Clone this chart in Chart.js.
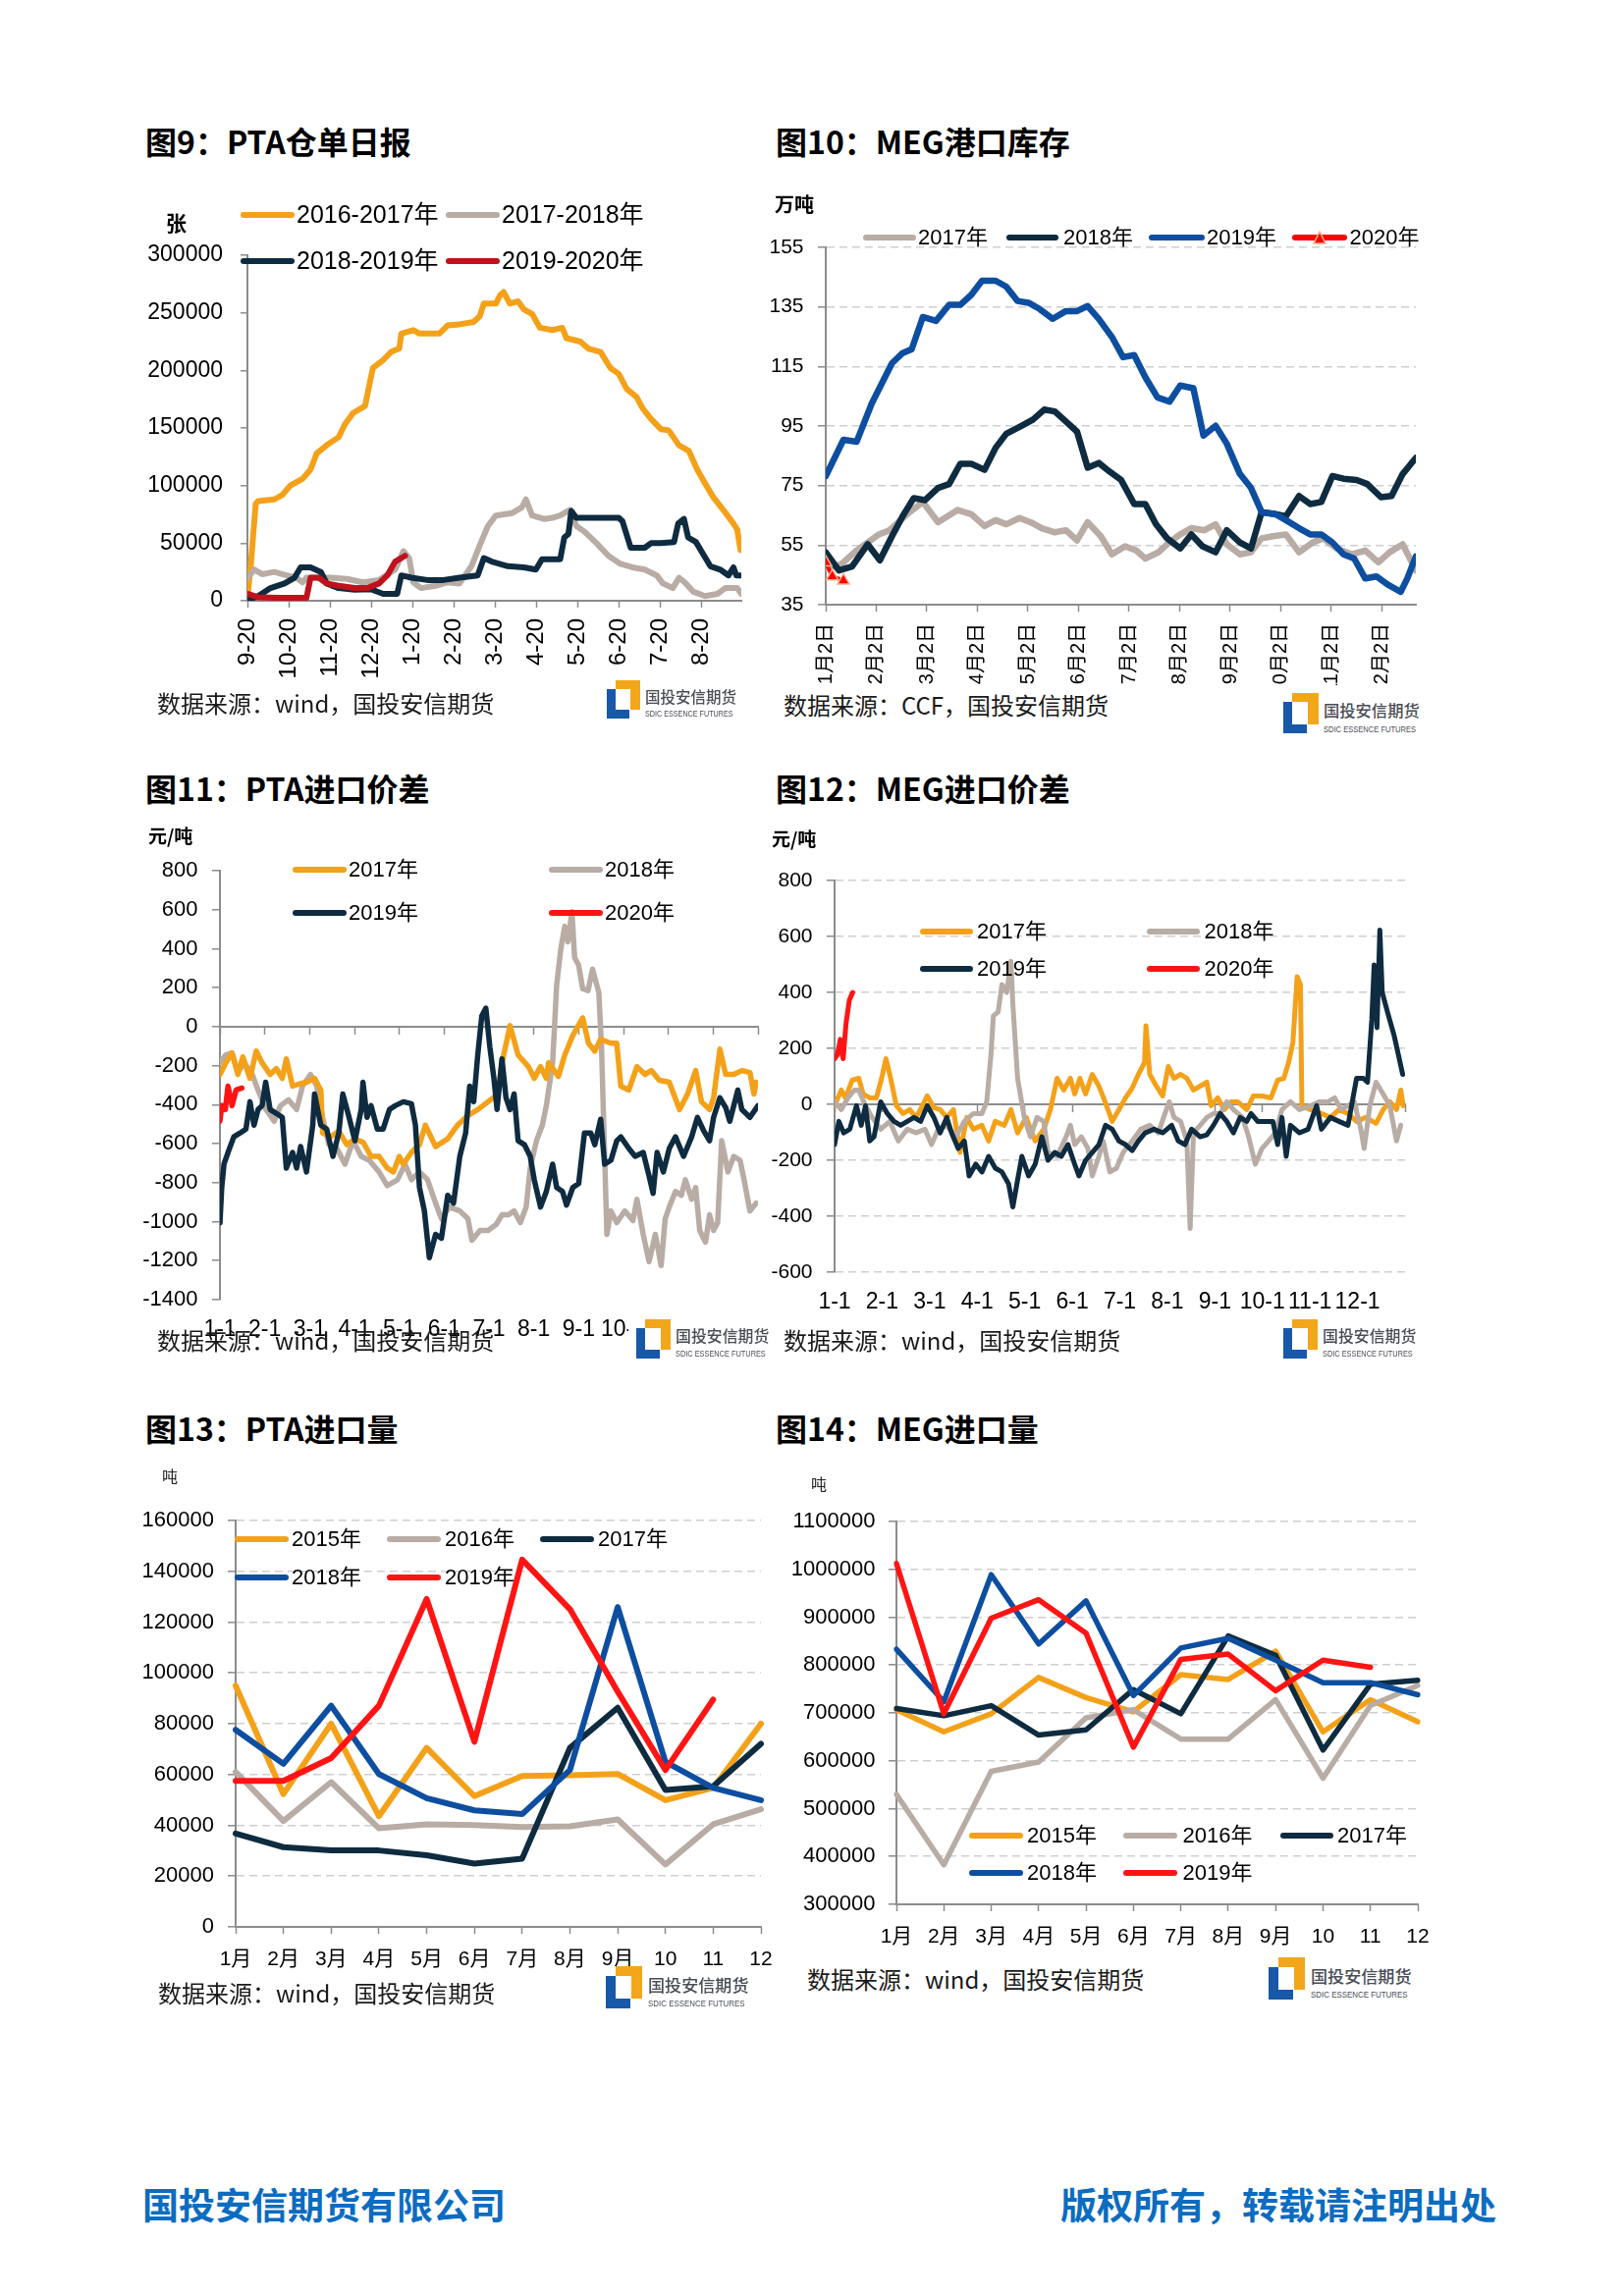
<!DOCTYPE html>
<html>
<head>
<meta charset="utf-8">
<script src="https://cdn.jsdelivr.net/npm/chart.js@4.4.1/dist/chart.umd.min.js"></script>
<style>
  body { margin: 0; background: #fff; }
  #page { position: relative; width: 1654px; height: 2339px; overflow: hidden; background: #fff;
          font-family: 'Liberation Sans', 'Noto Sans CJK SC', sans-serif; }
  .t { position: absolute; white-space: nowrap; line-height: 1; color: #000; }
  canvas { position: absolute; }
  .sw { position: absolute; height: 6px; border-radius: 3px; }
</style>
</head>
<body>
<div id="page"></div>
<script>
// ---- data (x = months from the first tick, y = value) ----
const ticks9 = ['9-20', '10-20', '11-20', '12-20', '1-20', '2-20', '3-20', '4-20', '5-20', '6-20', '7-20', '8-20'];
const yTicks9 = [0, 50000, 100000, 150000, 200000, 250000, 300000];
const pta1617 = [[0,2500],[0.08,30000],[0.2,84000],[0.26,86500],[0.65,88000],[0.85,92000],[1.04,100000],[1.34,106000],[1.53,114000],[1.68,128000],[1.92,135000],[2.21,142000],[2.36,153000],[2.56,163000],[2.85,169000],[3.04,202000],[3.29,209000],[3.48,216000],[3.68,219000],[3.73,232000],[4.02,235000],[4.17,232000],[4.65,232000],[4.85,239000],[5.14,240000],[5.48,242000],[5.63,247000],[5.73,258000],[6.02,258000],[6.12,265000],[6.21,268000],[6.36,258000],[6.56,260000],[6.70,253000],[6.90,249000],[7.09,237000],[7.39,235000],[7.63,237000],[7.73,228000],[8.07,225000],[8.26,219000],[8.56,216000],[8.80,202000],[9.00,197000],[9.19,184000],[9.43,177000],[9.58,167000],[9.78,158000],[10.02,149000],[10.21,148000],[10.46,135000],[10.70,130000],[10.90,114000],[11.09,102000],[11.29,90000],[11.53,79000],[11.78,67000],[11.87,62000],[11.95,44000]];
const pta1718 = [[0,20000],[0.17,27000],[0.36,23000],[0.65,25000],[0.95,22000],[1.19,20000],[1.34,16000],[1.43,20000],[2.02,20000],[2.41,19000],[2.80,16000],[3.19,18000],[3.58,27000],[3.78,43000],[3.92,37000],[4.02,16000],[4.21,11000],[4.56,13000],[4.85,16000],[5.14,15000],[5.43,30000],[5.63,48000],[5.83,65000],[6.02,74000],[6.41,76000],[6.65,81000],[6.75,88000],[6.90,74000],[7.19,71000],[7.39,72000],[7.58,74000],[7.82,79000],[7.97,65000],[8.17,60000],[8.46,50000],[8.75,39000],[9.04,32000],[9.33,29000],[9.63,27000],[9.92,22000],[10.07,15000],[10.31,11000],[10.46,20000],[10.60,16000],[10.80,8000],[11.09,4000],[11.39,6000],[11.58,11000],[11.87,11000],[11.97,6000]];
const pta1819 = [[0,500],[0.26,4000],[0.56,11000],[0.90,15000],[1.14,20000],[1.29,29000],[1.53,29000],[1.78,25000],[1.92,15000],[2.21,11000],[2.60,9500],[2.99,10000],[3.29,6000],[3.63,6000],[3.73,22000],[3.97,20000],[4.36,18000],[4.75,18000],[5.14,20000],[5.58,22000],[5.73,37000],[5.92,34000],[6.31,30000],[6.70,29000],[6.99,27000],[7.14,36000],[7.58,36000],[7.68,55000],[7.78,58000],[7.85,78000],[7.97,72000],[8.56,72000],[9.00,72000],[9.09,69000],[9.29,46000],[9.63,46000],[9.78,50000],[10.02,50000],[10.34,51000],[10.44,67000],[10.58,71000],[10.68,55000],[10.87,51000],[11.07,39000],[11.22,30000],[11.46,27000],[11.66,22000],[11.78,29000],[11.85,22000],[11.97,22000]];
const pta1920 = [[0,6000],[0.26,3000],[0.75,2500],[1.43,2500],[1.53,20000],[1.73,20000],[1.92,15000],[2.21,13000],[2.60,11000],[2.90,11000],[3.19,15000],[3.39,22000],[3.58,34000],[3.82,39000]];

const ticks10 = ['1月2日', '2月2日', '3月2日', '4月2日', '5月2日', '6月2日', '7月2日', '8月2日', '9月2日', '10月2日', '11月2日', '12月2日'];
const yTicks10 = [35, 55, 75, 95, 115, 135, 155];
const stock17 = [[0,47.2],[0.30,48.5],[0.61,53.2],[1.05,58.6],[1.26,60.0],[1.61,65.4],[1.92,69.5],[2.22,62.7],[2.61,66.8],[2.88,65.4],[3.14,61.4],[3.36,63.4],[3.57,62.0],[3.83,64.1],[4.05,62.7],[4.27,60.7],[4.53,59.3],[4.75,60.0],[4.97,56.6],[5.18,62.7],[5.44,58.0],[5.66,51.9],[5.92,54.6],[6.14,53.2],[6.32,50.5],[6.58,52.6],[6.79,55.9],[7.01,58.6],[7.23,60.7],[7.49,60.0],[7.71,62.0],[7.93,55.3],[8.19,51.9],[8.41,52.6],[8.62,57.3],[8.84,58.0],[9.10,58.6],[9.36,52.6],[9.63,55.9],[9.84,57.3],[10.10,53.9],[10.41,51.9],[10.67,53.2],[10.93,49.2],[11.15,52.6],[11.41,55.3],[11.67,46.5]];
const stock18 = [[0,52.6],[0.26,46.5],[0.52,47.8],[0.83,55.3],[1.07,49.9],[1.31,58.0],[1.52,64.7],[1.74,70.8],[1.96,70.1],[2.22,74.2],[2.44,75.5],[2.66,82.3],[2.88,82.3],[3.14,80.3],[3.36,87.7],[3.57,92.4],[3.88,95.1],[4.10,97.2],[4.32,100.5],[4.53,99.9],[4.75,96.5],[4.97,93.1],[5.18,81.0],[5.40,82.6],[5.62,79.6],[5.84,76.9],[6.10,68.8],[6.32,68.8],[6.53,62.0],[6.75,57.3],[7.01,53.9],[7.23,58.6],[7.45,54.6],[7.71,52.6],[7.93,60.0],[8.19,55.9],[8.41,53.9],[8.62,66.1],[8.89,65.4],[9.10,64.7],[9.36,71.5],[9.58,68.8],[9.80,69.5],[10.02,78.2],[10.24,77.3],[10.50,76.9],[10.71,75.5],[10.98,71.1],[11.19,71.5],[11.41,78.9],[11.67,84.3]];
const stock19 = [[0,78.2],[0.35,90.4],[0.61,89.7],[0.91,102.6],[1.31,116.1],[1.52,119.5],[1.70,120.8],[1.92,131.6],[2.18,130.3],[2.44,135.7],[2.66,135.7],[2.88,139.1],[3.09,143.8],[3.36,143.8],[3.57,141.8],[3.79,137.0],[4.01,136.4],[4.23,134.3],[4.49,131.0],[4.75,133.6],[4.97,133.6],[5.18,135.3],[5.40,131.0],[5.66,124.9],[5.88,118.1],[6.10,118.8],[6.32,111.4],[6.56,104.6],[6.80,103.2],[7.01,108.6],[7.27,107.7],[7.47,91.8],[7.71,95.1],[7.93,89.1],[8.19,78.9],[8.41,74.2],[8.62,66.1],[8.89,65.4],[9.10,63.4],[9.36,60.7],[9.58,58.6],[9.80,58.6],[10.02,55.9],[10.24,51.9],[10.45,50.5],[10.67,43.8],[10.89,44.5],[11.11,41.8],[11.37,39.3],[11.50,43.8],[11.67,51.2]];
const stock20 = [[0,49.2],[0.13,44.5],[0.35,43.1]];

const ticks11 = ['1-1', '2-1', '3-1', '4-1', '5-1', '6-1', '7-1', '8-1', '9-1', '10-1', '11-1', '12-1'];
const yTicks11 = [-1400, -1200, -1000, -800, -600, -400, -200, 0, 200, 400, 600, 800];
const ptaGap17 = [[0,-245],[0.13,-185],[0.27,-135],[0.40,-245],[0.51,-155],[0.67,-265],[0.81,-125],[0.94,-185],[1.12,-245],[1.26,-215],[1.39,-265],[1.48,-165],[1.62,-305],[1.75,-295],[1.93,-285],[2.11,-265],[2.25,-325],[2.29,-545],[2.47,-565],[2.65,-535],[2.83,-605],[3.01,-575],[3.20,-595],[3.37,-665],[3.55,-665],[3.73,-725],[3.87,-745],[4.00,-665],[4.09,-705],[4.27,-645],[4.45,-605],[4.58,-505],[4.81,-615],[5.08,-575],[5.30,-505],[5.53,-455],[5.75,-425],[5.98,-385],[6.20,-345],[6.29,-185],[6.47,5],[6.65,-145],[6.88,-205],[7.01,-265],[7.15,-205],[7.28,-265],[7.33,-185],[7.55,-255],[7.69,-145],[7.87,-45],[8.09,45],[8.22,-85],[8.36,-125],[8.49,-65],[8.72,-85],[8.85,-85],[8.94,-305],[9.12,-325],[9.30,-205],[9.48,-245],[9.62,-225],[9.80,-275],[10.02,-285],[10.25,-425],[10.43,-345],[10.61,-225],[10.74,-385],[10.92,-425],[11.01,-365],[11.15,-115],[11.28,-245],[11.46,-245],[11.64,-225],[11.82,-235],[11.91,-345],[11.96,-285]];
const ptaGap18 = [[0,-185],[0.13,-145],[0.27,-135],[0.40,-235],[0.54,-185],[0.72,-245],[0.85,-325],[1.03,-425],[1.21,-485],[1.35,-405],[1.53,-375],[1.71,-425],[1.84,-305],[2.02,-245],[2.16,-305],[2.29,-465],[2.43,-605],[2.61,-625],[2.79,-705],[2.97,-585],[3.15,-665],[3.33,-685],[3.55,-745],[3.73,-815],[3.96,-785],[4.13,-705],[4.27,-785],[4.45,-745],[4.63,-785],[4.81,-905],[4.94,-985],[5.12,-925],[5.35,-945],[5.53,-985],[5.62,-1095],[5.80,-1045],[5.98,-1045],[6.16,-1015],[6.29,-965],[6.43,-965],[6.56,-945],[6.70,-1005],[6.83,-925],[6.92,-725],[7.06,-585],[7.19,-505],[7.28,-405],[7.42,-185],[7.51,215],[7.60,395],[7.69,515],[7.76,435],[7.85,590],[7.91,355],[8.00,315],[8.09,195],[8.21,185],[8.31,295],[8.45,175],[8.51,-105],[8.58,-665],[8.63,-1065],[8.72,-945],[8.85,-1005],[9.03,-945],[9.21,-995],[9.30,-885],[9.44,-1065],[9.57,-1205],[9.71,-1065],[9.84,-1225],[9.93,-985],[10.02,-925],[10.16,-845],[10.29,-865],[10.38,-785],[10.52,-885],[10.61,-825],[10.70,-1045],[10.83,-1105],[10.92,-965],[11.01,-1045],[11.10,-1005],[11.19,-585],[11.33,-745],[11.46,-665],[11.60,-685],[11.69,-785],[11.82,-945],[11.96,-905]];
const ptaGap19 = [[0,-1005],[0.04,-825],[0.09,-705],[0.18,-645],[0.31,-565],[0.45,-545],[0.58,-525],[0.67,-385],[0.76,-505],[0.85,-425],[0.94,-405],[1.02,-285],[1.12,-425],[1.26,-445],[1.39,-465],[1.48,-725],[1.62,-645],[1.71,-725],[1.80,-615],[1.93,-745],[2.07,-505],[2.11,-345],[2.25,-505],[2.38,-525],[2.52,-665],[2.65,-545],[2.74,-345],[2.88,-465],[3.01,-585],[3.15,-425],[3.19,-285],[3.28,-465],[3.37,-405],[3.51,-525],[3.64,-525],[3.78,-425],[3.91,-405],[4.09,-385],[4.27,-395],[4.36,-505],[4.45,-825],[4.56,-945],[4.67,-1185],[4.81,-1065],[4.94,-1085],[5.08,-865],[5.21,-905],[5.35,-665],[5.48,-545],[5.57,-305],[5.66,-385],[5.75,-145],[5.84,55],[5.93,95],[6.02,-105],[6.11,-265],[6.18,-425],[6.29,-165],[6.38,-365],[6.47,-425],[6.56,-345],[6.65,-585],[6.79,-605],[6.92,-665],[7.01,-785],[7.15,-925],[7.28,-845],[7.42,-705],[7.51,-825],[7.64,-845],[7.73,-915],[7.87,-825],[8.00,-805],[8.13,-545],[8.27,-545],[8.36,-605],[8.49,-475],[8.58,-705],[8.72,-685],[8.85,-585],[8.94,-565],[9.12,-625],[9.26,-665],[9.44,-645],[9.57,-765],[9.66,-855],[9.75,-645],[9.89,-745],[10.02,-625],[10.16,-565],[10.34,-665],[10.52,-565],[10.65,-465],[10.79,-535],[10.92,-585],[11.01,-465],[11.15,-365],[11.28,-415],[11.37,-485],[11.55,-325],[11.64,-425],[11.82,-465],[12.0,-405]];
const ptaGap20 = [[0,-485],[0.04,-405],[0.12,-425],[0.18,-305],[0.27,-405],[0.36,-325],[0.49,-315]];

const ticks12 = ['1-1', '2-1', '3-1', '4-1', '5-1', '6-1', '7-1', '8-1', '9-1', '10-1', '11-1', '12-1'];
const yTicks12 = [-600, -400, -200, 0, 200, 400, 600, 800];
const megGap17 = [[0,-5],[0.14,51],[0.23,23],[0.37,86],[0.51,93],[0.60,37],[0.74,23],[0.88,23],[0.99,93],[1.08,163],[1.18,93],[1.30,-5],[1.44,-33],[1.58,-19],[1.71,-47],[1.85,-5],[1.95,30],[2.09,-12],[2.22,-19],[2.36,-47],[2.50,-19],[2.64,-172],[2.78,-47],[2.92,-89],[3.10,-75],[3.24,-131],[3.38,-61],[3.57,-75],[3.71,-19],[3.85,-102],[4.03,-47],[4.22,-131],[4.40,-89],[4.54,-19],[4.68,93],[4.82,51],[4.96,93],[5.05,37],[5.16,93],[5.28,37],[5.42,107],[5.56,65],[5.69,9],[5.84,-61],[5.98,-19],[6.12,23],[6.26,58],[6.39,107],[6.52,149],[6.55,281],[6.63,107],[6.77,65],[6.90,30],[7.02,135],[7.14,93],[7.28,107],[7.41,93],[7.55,51],[7.69,65],[7.83,79],[7.92,-5],[8.06,23],[8.20,-19],[8.34,9],[8.48,9],[8.67,-19],[8.81,30],[8.99,30],[9.18,23],[9.32,86],[9.45,93],[9.55,149],[9.64,219],[9.73,456],[9.80,428],[9.83,-5],[10.01,-19],[10.24,-33],[10.43,-47],[10.61,-19],[10.80,-33],[10.98,-61],[11.17,-47],[11.39,-68],[11.54,-19],[11.68,9],[11.82,-19],[11.91,51],[11.96,-5]];
const megGap18 = [[0,9],[0.14,-19],[0.28,23],[0.42,51],[0.51,51],[0.65,-5],[0.79,-47],[0.97,-89],[1.16,-61],[1.34,-131],[1.53,-89],[1.71,-102],[1.90,-89],[2.04,-144],[2.18,-89],[2.36,-75],[2.55,-116],[2.73,-61],[2.92,-33],[3.10,-33],[3.20,9],[3.29,177],[3.34,316],[3.44,330],[3.52,428],[3.62,400],[3.71,511],[3.75,358],[3.85,93],[3.99,-47],[4.12,-116],[4.26,-47],[4.40,-61],[4.49,-172],[4.68,-186],[4.87,-116],[4.96,-75],[5.05,-144],[5.19,-116],[5.33,-158],[5.42,-256],[5.56,-186],[5.65,-131],[5.79,-242],[5.93,-228],[6.07,-172],[6.26,-131],[6.44,-89],[6.63,-75],[6.81,-102],[6.95,-33],[7.04,9],[7.14,-47],[7.28,-61],[7.41,-131],[7.48,-444],[7.55,-102],[7.69,-75],[7.83,-47],[7.97,-33],[8.11,-33],[8.25,9],[8.39,-19],[8.58,-47],[8.71,-116],[8.85,-214],[8.99,-158],[9.13,-131],[9.27,-102],[9.41,-19],[9.59,9],[9.78,-19],[10.01,-5],[10.19,9],[10.38,9],[10.52,23],[10.66,-19],[10.80,-5],[10.93,9],[11.07,-89],[11.14,-158],[11.26,-5],[11.39,79],[11.54,37],[11.68,-5],[11.82,-131],[11.91,-75]];
const megGap19 = [[0,-144],[0.09,-61],[0.19,-102],[0.32,-89],[0.46,-5],[0.56,-75],[0.65,-5],[0.74,-131],[0.83,-116],[0.97,9],[1.11,-33],[1.25,-61],[1.39,-75],[1.53,-61],[1.67,-47],[1.81,-61],[1.95,-5],[2.09,-47],[2.22,-102],[2.36,-47],[2.46,-102],[2.60,-158],[2.73,-131],[2.83,-256],[2.97,-214],[3.10,-242],[3.24,-186],[3.38,-228],[3.52,-242],[3.66,-284],[3.75,-367],[3.85,-270],[3.94,-186],[4.08,-256],[4.22,-214],[4.36,-116],[4.49,-200],[4.63,-172],[4.77,-186],[4.91,-144],[5.05,-214],[5.14,-256],[5.28,-200],[5.42,-172],[5.56,-144],[5.70,-75],[5.84,-89],[5.98,-131],[6.12,-144],[6.26,-165],[6.39,-131],[6.53,-102],[6.72,-89],[6.90,-102],[7.09,-75],[7.23,-131],[7.37,-144],[7.51,-89],[7.69,-116],[7.83,-109],[7.97,-75],[8.11,-33],[8.25,-61],[8.39,-102],[8.53,-47],[8.67,-61],[8.76,-33],[8.90,-61],[9.04,-61],[9.22,-61],[9.32,-144],[9.41,-47],[9.50,-186],[9.59,-75],[9.78,-102],[9.96,-89],[10.14,-5],[10.24,-89],[10.43,-47],[10.61,-61],[10.80,-75],[10.98,93],[11.12,93],[11.21,79],[11.30,302],[11.35,498],[11.41,274],[11.47,623],[11.52,400],[11.63,330],[11.77,246],[11.86,177],[11.95,107]];
const megGap20 = [[0,163],[0.06,177],[0.12,232],[0.18,163],[0.24,288],[0.31,372],[0.38,400]];

const months = ['1月', '2月', '3月', '4月', '5月', '6月', '7月', '8月', '9月', '10', '11', '12'];
const yTicks13 = [0, 20000, 40000, 60000, 80000, 100000, 120000, 140000, 160000];
const ptaImp15 = [95000, 52300, 80000, 43600, 70500, 51500, 59400, 59700, 60200, 49900, 54700, 80000];
const ptaImp16 = [61000, 41700, 57000, 38800, 40400, 40100, 39300, 39600, 42300, 24600, 40400, 46300];
const ptaImp17 = [36800, 31400, 30100, 30100, 28200, 24900, 26900, 70500, 86300, 53900, 55400, 72100];
const ptaImp18 = [77600, 64200, 87100, 60200, 50700, 45900, 44400, 61800, 125900, 65000, 54700, 49900];
const ptaImp19 = [57500, 57500, 66500, 87100, 129100, 72900, 144600, 125100, 92700, 61800, 89500, null];

const yTicks14 = [300000, 400000, 500000, 600000, 700000, 800000, 900000, 1000000, 1100000];
const megImp15 = [706700, 660400, 698300, 774100, 732000, 702500, 780000, 769900, 828800, 660400, 727800, 681500];
const megImp16 = [529900, 382500, 577900, 597300, 689900, 706700, 645300, 645300, 727800, 563600, 715200, 757300];
const megImp17 = [709300, 694100, 715200, 653700, 664600, 748800, 698300, 860800, 820400, 622500, 759800, 768200];
const megImp18 = [833100, 723600, 988800, 844000, 934100, 736200, 835600, 855800, 810300, 763200, 763200, 737900];
const megImp19 = [1012400, 698300, 897900, 936600, 866700, 628400, 812000, 822900, 746300, 810300, 795200, null];

// ---- styling ----
const FONT = "'Liberation Sans', 'Noto Sans CJK SC', sans-serif";
const CJK = "'Noto Sans CJK SC', sans-serif";
const AX = '#8C8C8C';
const GRID = '#CFCFCF';
const ORANGE = '#F4A11A', GRAY = '#B8ACA4', NAVY = '#0E2B40', BLUE = '#0D4EA0', RED = '#FF1414', DARKRED = '#C0121C';

const page = document.getElementById('page');

function text(str, x, cy, size, o = {}) {
  const d = document.createElement('div');
  d.className = 't';
  d.textContent = str;
  // Noto CJK glyphs sit a little low in a line-height:1 box
  const lift = o.family === CJK ? 0.12 * size : 0;
  d.style.top = (cy - size / 2 - lift) + 'px';
  d.style.fontSize = size + 'px';
  if (o.right) d.style.right = (1654 - x) + 'px'; else d.style.left = x + 'px';
  if (o.bold) d.style.fontWeight = 700;
  if (o.color) d.style.color = o.color;
  if (o.family) d.style.fontFamily = o.family;
  page.appendChild(d);
}

function legendItem(x1, x2, cy, color, label, tx, size, tri) {
  const s = document.createElement('div');
  s.className = 'sw';
  s.style.left = x1 + 'px';
  s.style.width = (x2 - x1) + 'px';
  s.style.top = (cy - 3) + 'px';
  s.style.background = color;
  page.appendChild(s);
  if (tri) {
    const m = document.createElement('div');
    m.style.cssText = `position:absolute;left:${(x1 + x2) / 2 - 7}px;top:${cy - 7}px;width:14px;height:14px;`;
    m.innerHTML = '<svg width="14" height="14"><polygon points="7,1 13,13 1,13" fill="#FF0000" stroke="#F6B38A" stroke-width="1.5"/></svg>';
    page.appendChild(m);
  }
  text(label, tx, cy, size);
}

// company mark + name, with its own white box like the pasted image in the report
function logo(x, y, h, bgLeft) {
  const s = h / 39;
  const b = document.createElement('div');
  const pad = bgLeft || 0;
  b.style.cssText = `position:absolute;left:${x - pad}px;top:${y}px;width:${132 * s + pad}px;height:${h}px;background:#fff;`;
  const o = pad;
  b.innerHTML =
    `<div style="position:absolute;left:${o}px;top:${9 * s}px;width:${9 * s}px;height:${30 * s}px;background:#1858A8;"></div>` +
    `<div style="position:absolute;left:${o}px;top:${30 * s}px;width:${23 * s}px;height:${9 * s}px;background:#1858A8;"></div>` +
    `<div style="position:absolute;left:${o + 9 * s}px;top:0;width:${25 * s}px;height:${9 * s}px;background:#F2A71B;"></div>` +
    `<div style="position:absolute;left:${o + 24 * s}px;top:0;width:${10 * s}px;height:${30 * s}px;background:#F2A71B;"></div>` +
    `<div style="position:absolute;left:${o + 39 * s}px;top:${9 * s}px;font:500 ${15.5 * s}px ${CJK};color:#4A4D55;line-height:1;white-space:nowrap;">国投安信期货</div>` +
    `<div style="position:absolute;left:${o + 39 * s}px;top:${30 * s}px;font:${9 * s}px 'Liberation Sans';color:#4A4D55;line-height:1;white-space:nowrap;transform:scaleX(0.8);transform-origin:left top;">SDIC ESSENCE FUTURES</div>`;
  page.appendChild(b);
}

const xy = pairs => pairs.map(p => ({ x: p[0], y: p[1] }));

function line(label, data, color, order, width) {
  return {
    label, data, order,
    borderColor: color, backgroundColor: color, borderWidth: width,
    pointRadius: 0, pointHoverRadius: 0, tension: 0, fill: false,
    borderJoinStyle: 'round', borderCapStyle: 'round', spanGaps: false
  };
}

const YW = 120, PADTOP = 45;

function yAxis(tickVals, size, pad, dashed) {
  return {
    type: 'linear',
    min: tickVals[0], max: tickVals[tickVals.length - 1],
    afterFit: s => { s.width = YW; },
    afterBuildTicks: s => { s.ticks = tickVals.map(v => ({ value: v })); },
    ticks: { color: '#000', font: { family: FONT, size }, padding: pad, callback: v => String(v) },
    grid: { display: true, drawOnChartArea: dashed, color: GRID, lineWidth: 1.6, tickLength: 8, tickColor: AX, tickWidth: 1.5, tickBorderDash: [] },
    border: { display: true, color: AX, width: 2, dash: dashed ? [8, 5] : [] }
  };
}

function monthAxis(labels, max, xH, o) {
  return {
    type: 'linear', min: 0, max,
    afterFit: s => { s.height = xH; },
    afterBuildTicks: s => { s.ticks = labels.map((_, i) => ({ value: i })); },
    ticks: {
      autoSkip: false, color: '#000', font: { family: FONT, size: o.size }, padding: o.pad,
      maxRotation: o.rot || 0, minRotation: o.rot || 0,
      callback: v => labels[Math.round(v)] ?? ''
    },
    grid: { display: !!o.ticks, drawOnChartArea: false, drawTicks: !!o.ticks, tickLength: 7, tickColor: AX, tickWidth: 1.5 },
    border: { display: !!o.border, color: AX, width: 2 }
  };
}

function zeroAxis(n, max) {
  return {
    type: 'linear', min: 0, max, position: { y: 0 },
    afterBuildTicks: s => { const t = []; for (let i = 0; i <= n; i++) t.push({ value: i }); s.ticks = t; },
    ticks: { display: false },
    grid: { display: true, drawOnChartArea: false, tickLength: 7, tickColor: AX, tickWidth: 1.5 },
    border: { display: true, color: AX, width: 2 }
  };
}

function makeChart(box, data, scales) {
  const padRight = box.pr ?? 16;
  const W = Math.round(box.r - box.l + YW + padRight);
  const H = Math.round(box.b - box.t + PADTOP + box.xH);
  const c = document.createElement('canvas');
  c.width = W; c.height = H;
  c.style.left = (box.l - YW) + 'px';
  c.style.top = (box.t - PADTOP) + 'px';
  c.style.width = W + 'px';
  c.style.height = H + 'px';
  page.appendChild(c);
  return new Chart(c.getContext('2d'), {
    type: 'line',
    data,
    options: {
      responsive: false, animation: false, events: [],
      layout: { padding: { top: PADTOP, right: padRight, left: 0, bottom: 0 } },
      plugins: { legend: { display: false }, tooltip: { enabled: false } },
      scales
    }
  });
}

// ---- 图9 PTA仓单日报 ----
makeChart({ l: 252, t: 259.5, r: 755.4, b: 611, xH: 92 }, {
  datasets: [
    line('2019-2020年', xy(pta1920), DARKRED, 0, 6),
    line('2018-2019年', xy(pta1819), NAVY, 1, 6),
    line('2017-2018年', xy(pta1718), GRAY, 2, 6),
    line('2016-2017年', xy(pta1617), ORANGE, 3, 6)
  ]
}, {
  x: monthAxis(ticks9, 11.97, 92, { size: 24, pad: 11, rot: 90, ticks: true, border: true }),
  y: (() => { const a = yAxis(yTicks9, 23, 18, false); a.grid.tickLength = 7; return a; })()
});

// ---- 图10 MEG港口库存 ----
makeChart({ l: 840.6, t: 252, r: 1441.8, b: 616.4, xH: 82 }, {
  datasets: [
    Object.assign(line('2020年', xy(stock20), '#FF0000', 0, 4), {
      pointRadius: 7, pointStyle: 'triangle', pointBackgroundColor: '#FF0000',
      pointBorderColor: '#F6B38A', pointBorderWidth: 1.5
    }),
    line('2019年', xy(stock19), BLUE, 1, 6.5),
    line('2018年', xy(stock18), NAVY, 2, 6.5),
    line('2017年', xy(stock17), GRAY, 3, 6.5)
  ]
}, {
  x: monthAxis(ticks10, 11.67, 82, { size: 20, pad: 12, rot: 90, ticks: true, border: true }),
  y: yAxis(yTicks10, 21, 14.5, true)
});

// ---- 图11 PTA进口价差 ----
makeChart({ l: 224, t: 886.5, r: 772, b: 1323, xH: 60 }, {
  datasets: [
    line('2020年', xy(ptaGap20), RED, 0, 5.5),
    line('2019年', xy(ptaGap19), NAVY, 1, 5.5),
    line('2017年', xy(ptaGap17), ORANGE, 2, 5.5),
    line('2018年', xy(ptaGap18), GRAY, 3, 5.5)
  ]
}, {
  x: monthAxis(ticks11, 12, 60, { size: 23, pad: 17 }),
  x0: zeroAxis(12, 12),
  y: yAxis(yTicks11, 22, 14.5, false)
});

// ---- 图12 MEG进口价差 ----
makeChart({ l: 849.5, t: 896.5, r: 1430.6, b: 1295.5, xH: 55 }, {
  datasets: [
    line('2020年', xy(megGap20), RED, 0, 5),
    line('2019年', xy(megGap19), NAVY, 1, 5),
    line('2018年', xy(megGap18), GRAY, 2, 5),
    line('2017年', xy(megGap17), ORANGE, 3, 5)
  ]
}, {
  x: monthAxis(ticks12, 12, 55, { size: 23, pad: 16.5 }),
  x0: zeroAxis(12, 12),
  y: yAxis(yTicks12, 21, 14.5, true)
});

// ---- 图13 PTA进口量 / 图14 MEG进口量 ----
function catAxis(xH, pad) {
  return {
    type: 'category', offset: false,
    afterFit: s => { s.height = xH; },
    ticks: { autoSkip: false, maxRotation: 0, color: '#000', font: { family: FONT, size: 21 }, padding: pad },
    grid: { display: true, drawOnChartArea: false, tickLength: 7, tickColor: AX, tickWidth: 1.5 },
    border: { display: true, color: AX, width: 2 }
  };
}

makeChart({ l: 240, t: 1548.7, r: 774.6, b: 1963, xH: 55, pr: 32 }, {
  labels: months,
  datasets: [
    line('2019年', ptaImp19, RED, 0, 6),
    line('2018年', ptaImp18, BLUE, 1, 6),
    line('2017年', ptaImp17, NAVY, 2, 6),
    line('2016年', ptaImp16, GRAY, 3, 6),
    line('2015年', ptaImp15, ORANGE, 4, 6)
  ]
}, {
  x: catAxis(55, 14),
  y: yAxis(yTicks13, 22, 14, true)
});

makeChart({ l: 913, t: 1550, r: 1443.8, b: 1939.7, xH: 55, pr: 32 }, {
  labels: months,
  datasets: [
    line('2019年', megImp19, RED, 0, 5.5),
    line('2018年', megImp18, BLUE, 1, 5.5),
    line('2017年', megImp17, NAVY, 2, 5.5),
    line('2016年', megImp16, GRAY, 3, 5.5),
    line('2015年', megImp15, ORANGE, 4, 5.5)
  ]
}, {
  x: catAxis(55, 14),
  y: yAxis(yTicks14, 22, 13.5, true)
});

// ---- titles, units, legends, sources ----
const TS = 32;
text('图9：PTA仓单日报', 148, 146.5, TS, { bold: true, family: CJK });
text('图10：MEG港口库存', 790, 146.5, TS, { bold: true, family: CJK });
text('图11：PTA进口价差', 148, 806, TS, { bold: true, family: CJK });
text('图12：MEG进口价差', 790, 806, TS, { bold: true, family: CJK });
text('图13：PTA进口量', 148, 1457.5, TS, { bold: true, family: CJK });
text('图14：MEG进口量', 790, 1457.5, TS, { bold: true, family: CJK });

text('张', 169, 229.5, 21, { bold: true, family: CJK });
text('万吨', 789, 210, 20, { bold: true, family: CJK });
text('元/吨', 151, 852.5, 19, { bold: true, family: CJK });
text('元/吨', 786, 855.5, 19, { bold: true, family: CJK });
text('吨', 165, 1504.5, 16, { family: CJK, color: '#222' });
text('吨', 826, 1513, 16, { family: CJK, color: '#222' });

legendItem(245, 300, 218.5, ORANGE, '2016-2017年', 302, 25);
legendItem(454, 509, 218.5, GRAY, '2017-2018年', 511, 25);
legendItem(245, 300, 265.6, NAVY, '2018-2019年', 302, 25);
legendItem(454, 509, 265.6, DARKRED, '2019-2020年', 511, 25);

legendItem(879, 932.6, 242, GRAY, '2017年', 935, 22);
legendItem(1024.5, 1078, 242, NAVY, '2018年', 1083, 22);
legendItem(1170, 1226.5, 242, BLUE, '2019年', 1229, 22);
legendItem(1316, 1372, 242, '#FF0000', '2020年', 1374.5, 22, true);

legendItem(298, 353, 886, ORANGE, '2017年', 355, 22);
legendItem(558.5, 614, 886, GRAY, '2018年', 616, 22);
legendItem(298, 353, 930, NAVY, '2019年', 355, 22);
legendItem(558.5, 614, 930, RED, '2020年', 616, 22);

legendItem(937, 991, 949, ORANGE, '2017年', 995, 22);
legendItem(1168, 1222, 949, GRAY, '2018年', 1226.5, 22);
legendItem(937, 991, 986.6, NAVY, '2019年', 995, 22);
legendItem(1168, 1222, 986.6, RED, '2020年', 1226.5, 22);

legendItem(239, 294.4, 1568, ORANGE, '2015年', 297, 22);
legendItem(394, 449, 1568, GRAY, '2016年', 453, 22);
legendItem(550, 605, 1568, NAVY, '2017年', 609, 22);
legendItem(239, 294.4, 1607, BLUE, '2018年', 297, 22);
legendItem(394, 449, 1607, RED, '2019年', 453, 22);

legendItem(987.4, 1042, 1869.5, ORANGE, '2015年', 1046, 22);
legendItem(1144, 1199, 1869.5, GRAY, '2016年', 1204.5, 22);
legendItem(1303.5, 1358, 1869.5, NAVY, '2017年', 1362, 22);
legendItem(987.4, 1042, 1907.7, BLUE, '2018年', 1046, 22);
legendItem(1144, 1199, 1907.7, RED, '2019年', 1204.5, 22);

const SRC = 24;
text('数据来源：wind，国投安信期货', 160, 719, SRC, { family: CJK, color: '#1a1a1a' });
text('数据来源：CCF，国投安信期货', 798, 721, SRC, { family: CJK, color: '#1a1a1a' });
text('数据来源：wind，国投安信期货', 160, 1368, SRC, { family: CJK, color: '#1a1a1a' });
text('数据来源：wind，国投安信期货', 798, 1368, SRC, { family: CJK, color: '#1a1a1a' });
text('数据来源：wind，国投安信期货', 161, 2033, SRC, { family: CJK, color: '#1a1a1a' });
text('数据来源：wind，国投安信期货', 822, 2018.5, SRC, { family: CJK, color: '#1a1a1a' });

logo(618, 693, 39);
logo(1307, 706, 41);
logo(648, 1344, 40, 8);
logo(1307, 1344, 40);
logo(617, 2003, 43);
logo(1292, 1994, 43);

text('国投安信期货有限公司', 145, 2250, 37, { bold: true, family: CJK, color: '#0B6CC0' });
text('版权所有，转载请注明出处', 1524, 2250, 37, { bold: true, family: CJK, color: '#0B6CC0', right: true });
</script>
</body>
</html>
